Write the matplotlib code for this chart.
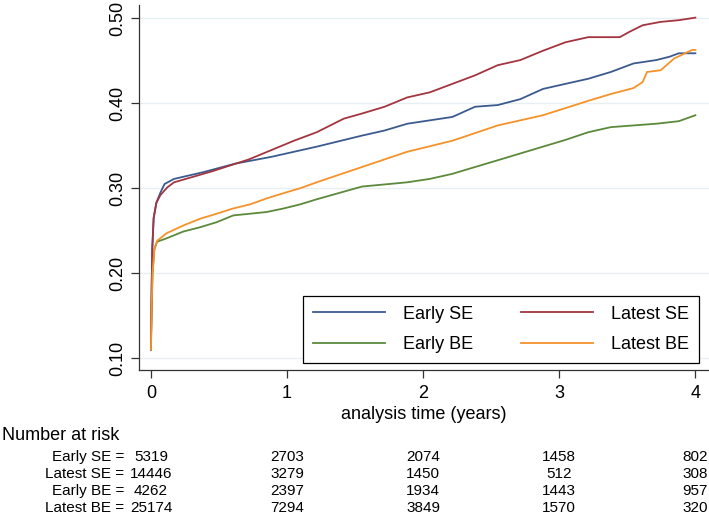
import matplotlib
matplotlib.use("Agg")
import matplotlib.pyplot as plt
from matplotlib.transforms import blended_transform_factory

plt.rcParams["font.family"] = ["Liberation Sans", "DejaVu Sans"]

# failure curves (time in years, cumulative failure)
early_se_t = [0, 0.005, 0.01, 0.02, 0.04, 0.07, 0.1, 0.17, 0.386, 0.619, 0.885, 1.218, 1.55,
              1.716, 1.883, 2.215, 2.381, 2.548, 2.714, 2.88, 3.046, 3.213, 3.379, 3.545,
              3.712, 3.811, 3.878, 4.0]
early_se_y = [0.11, 0.18, 0.23, 0.265, 0.283, 0.295, 0.305, 0.311, 0.319, 0.329, 0.337, 0.349,
              0.362, 0.368, 0.376, 0.384, 0.396, 0.398, 0.405, 0.417, 0.423, 0.429, 0.437,
              0.447, 0.451, 0.455, 0.459, 0.459]

latest_se_t = [0, 0.005, 0.01, 0.02, 0.04, 0.07, 0.12, 0.17, 0.45, 0.72, 1.051, 1.218, 1.417,
               1.55, 1.716, 1.883, 2.049, 2.215, 2.381, 2.548, 2.714, 2.88, 3.046, 3.213,
               3.445, 3.512, 3.612, 3.745, 3.878, 4.0]
latest_se_y = [0.11, 0.18, 0.23, 0.265, 0.283, 0.292, 0.301, 0.307, 0.32, 0.334, 0.356, 0.366,
               0.382, 0.388, 0.396, 0.407, 0.413, 0.423, 0.433, 0.445, 0.451, 0.462, 0.472,
               0.478, 0.478, 0.484, 0.492, 0.496, 0.498, 0.501]

early_be_t = [0, 0.005, 0.012, 0.025, 0.045, 0.115, 0.238, 0.36, 0.483, 0.605, 0.728, 0.85,
              0.97, 1.096, 1.218, 1.55, 1.883, 2.049, 2.215, 2.381, 2.548, 2.714, 2.88, 3.046,
              3.213, 3.379, 3.545, 3.712, 3.878, 4.0]
early_be_y = [0.11, 0.16, 0.2, 0.228, 0.237, 0.241, 0.249, 0.254, 0.26, 0.268, 0.27, 0.272,
              0.276, 0.281, 0.287, 0.302, 0.307, 0.311, 0.317, 0.325, 0.333, 0.341, 0.349,
              0.357, 0.366, 0.372, 0.374, 0.376, 0.379, 0.386]

latest_be_t = [0, 0.005, 0.012, 0.025, 0.045, 0.115, 0.236, 0.36, 0.483, 0.6, 0.728, 0.85,
               0.97, 1.096, 1.218, 1.55, 1.883, 2.215, 2.548, 2.88, 3.213, 3.379, 3.545, 3.612,
               3.645, 3.745, 3.845, 3.911, 3.977, 4.0]
latest_be_y = [0.11, 0.16, 0.2, 0.228, 0.238, 0.247, 0.256, 0.264, 0.27, 0.276, 0.281, 0.288,
               0.294, 0.3, 0.307, 0.325, 0.343, 0.356, 0.374, 0.386, 0.403, 0.411, 0.418, 0.425,
               0.437, 0.439, 0.453, 0.458, 0.463, 0.463]

# number at risk table
risk_times = [0, 1, 2, 3, 4]
risk_labels = ["Early SE", "Latest SE", "Early BE", "Latest BE"]
risk_early_se = [5319, 2703, 2074, 1458, 802]
risk_latest_se = [14446, 3279, 1450, 512, 308]
risk_early_be = [4262, 2397, 1934, 1443, 957]
risk_latest_be = [25174, 7294, 3849, 1570, 320]

c_blue = "#3b5b8e"
c_red = "#a2353f"
c_green = "#5b8a3b"
c_orange = "#f5922a"

fig = plt.figure(figsize=(7.09, 5.16), dpi=100)
ax = fig.add_axes([0.196, 0.283, 0.804, 0.707])

ax.plot(early_se_t, early_se_y, color=c_blue, lw=1.3, label="Early SE")
ax.plot(early_be_t, early_be_y, color=c_green, lw=1.3, label="Early BE")
ax.plot(latest_se_t, latest_se_y, color=c_red, lw=1.3, label="Latest SE")
ax.plot(latest_be_t, latest_be_y, color=c_orange, lw=1.3, label="Latest BE")

ax.set_xlim(-0.088, 4.10)
ax.set_ylim(0.0859, 0.5157)
ax.set_xticks([0, 1, 2, 3, 4])
ax.set_yticks([0.1, 0.2, 0.3, 0.4, 0.5])
ax.set_yticklabels(["0.10", "0.20", "0.30", "0.40", "0.50"], rotation=90, va="center")
ax.tick_params(labelsize=13, length=6, width=0.9, color="#333333", pad=3)
ax.tick_params(axis="x", pad=5)
ax.grid(axis="y", color="#e6eff1", lw=1)
ax.set_axisbelow(True)
for s in ["top", "right"]:
    ax.spines[s].set_visible(False)
for s in ["left", "bottom"]:
    ax.spines[s].set_color("#333333")
    ax.spines[s].set_linewidth(0.9)
ax.set_xlabel("analysis time (years)", fontsize=13, labelpad=3)

leg = ax.legend(ncol=2, loc="lower right", bbox_to_anchor=(0.982, 0.019), fontsize=13,
                frameon=True, fancybox=False, edgecolor="black", framealpha=1,
                handlelength=4, handletextpad=1.0, columnspacing=2.6, labelspacing=0.75,
                borderpad=0.55, borderaxespad=0)
leg.get_frame().set_linewidth(0.9)

# risk table below the axes
trans = blended_transform_factory(ax.transData, fig.transFigure)
fig.text(2 / 709, 1 - 435 / 516, "Number at risk", fontsize=13, va="center", ha="left")
rows = [risk_early_se, risk_latest_se, risk_early_be, risk_latest_be]
row_y = [457, 474, 491, 508]
for lab, vals, py in zip(risk_labels, rows, row_y):
    yf = 1 - py / 516
    fig.text(124 / 709, yf, lab + " =", fontsize=11, ha="right", va="center")
    for t, v in zip(risk_times, vals):
        ax.text(t, yf, str(v), fontsize=11, ha="center", va="center",
                transform=trans, clip_on=False)

fig.savefig("out.png", dpi=100)
